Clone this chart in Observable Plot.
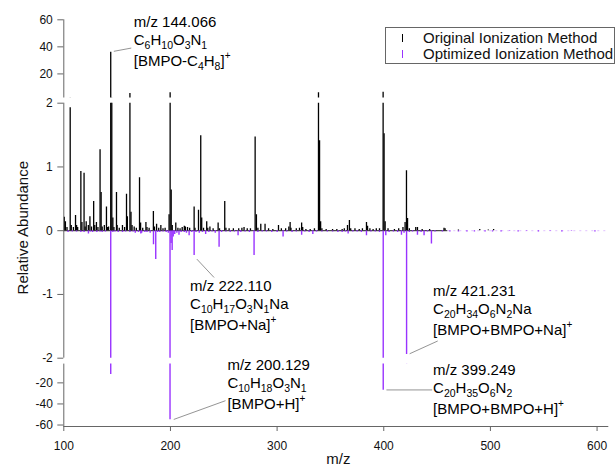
<!DOCTYPE html>
<html><head><meta charset="utf-8">
<script src="https://cdn.jsdelivr.net/npm/d3@7"></script>
<script src="https://cdn.jsdelivr.net/npm/@observablehq/plot@0.6"></script>
<style>
body{margin:0;background:#fff;}
#wrap{position:relative;width:616px;height:467px;font-family:"Liberation Sans",Arial,sans-serif;background:#fff;}
#wrap svg{position:absolute;left:0;overflow:visible;background:transparent;}
#legend{position:absolute;left:385px;top:27px;width:230px;height:37px;border:1px solid #666;box-sizing:border-box;font-size:15px;color:#111;background:#fff;z-index:5;}
.lrow{position:absolute;left:0;height:16px;line-height:16px;white-space:nowrap;}
.lrow .sym{position:absolute;left:16px;top:4px;width:1.4px;height:8px;}
.lrow .lab{position:absolute;left:37px;top:0;}
</style></head>
<body>
<div id="wrap">
  <div id="legend">
    <div class="lrow" style="top:2px"><span class="sym" style="background:#000"></span><span class="lab">Original Ionization Method</span></div>
    <div class="lrow" style="top:18px"><span class="sym" style="background:#9933ff"></span><span class="lab">Optimized Ionization Method</span></div>
  </div>
</div>
<script>
// ---- data: Original Ionization Method (positive) ----
const origMz = [100.5,101.5,103,106,107,109,111,112,113,116,117,119,120,121,123,124.5,126,128,129,130.6,132,134,135,136,138,140,141,142,144,145,146,147,149.4,150,152,155,157,158.8,159.6,162,163,164,166,168,171,172,174,177,178,180,184,185,187,189,191,193,195,198.7,199.7,200.7,201.7,205,207,209,211,213,214,216,218,222.2,223,226.3,228.4,229.3,231,234,235,237,240,244.7,246,250.9,252,255,259,264,267,269,272,275,279.4,280.6,282,284.7,288.7,292,296,301.3,304,308,311,312.2,313,318,321,323,324,327,331,335,338.8,339.8,340.8,342,346,352,356,361,363,366,367.8,369,373,377,380,383.8,384.8,387,390,393,396,399.4,400.3,401.3,404,410,414,418,420,421.3,422.3,424,430,431.6,436,443,456.5,457.5,470,490,498,503];
const origAb = [0.21,0.14,0.05,1.93,0.08,0.05,0.24,0.08,0.05,0.93,0.13,0.90,0.06,0.14,0.08,0.22,0.06,0.46,0.08,0.13,0.05,1.27,0.60,0.06,0.08,0.37,0.05,0.06,36,2.1,0.20,0.05,0.60,0.08,0.04,0.08,0.05,0.57,0.22,5.5,0.29,0.08,0.06,0.04,0.83,0.12,0.04,0.13,0.05,0.04,0.30,0.06,0.10,0.04,0.08,0.03,0.04,0.25,6,0.64,0.08,0.12,0.04,0.03,0.05,0.07,0.06,0.05,0.04,0.37,0.04,0.32,1.49,0.20,0.04,0.14,0.04,0.06,0.03,0.12,0.03,0.46,0.04,0.03,0.03,0.03,0.04,0.05,0.03,0.03,1.47,0.25,0.04,0.10,0.10,0.03,0.02,0.08,0.03,0.03,0.06,0.13,0.04,0.03,0.04,0.12,0.05,0.02,0.02,0.03,6,1.41,0.14,0.03,0.02,0.02,0.02,0.02,0.03,0.08,0.16,0.03,0.03,0.02,0.03,0.13,0.07,0.03,0.02,0.03,0.03,6.5,1.52,0.14,0.03,0.02,0.03,0.05,0.13,0.94,0.19,0.03,0.05,0.05,0.02,0.02,0.04,0.03,0.01,0.02,0.01,0.02];

// ---- data: Optimized Ionization Method (negative) ----
const optMz = [104,108,112,116,119,123.1,125,127,131,134,136,139,144,146,148,151,155,158,162,165,167,170,172.2,173,176,178,181,184.1,186.2,188,190,193,196,198,199.6,200.6,201.6,202.6,204,206,208,210,213,215,217.5,220,222.2,224,227,230,233,236,239,242,245.6,248,252,256,260,263.4,266,270,274,278.4,282,286,290,295,300,305.6,309,314,318,323,326,330,333.5,337,342,347,352,357,361,364,366.6,371,375,379,383.8,388,392,396,399.5,401.9,405,409,413,416.6,419,421.4,424,427,431.6,435,437.8,441,444.7,448,455,462,470,478,485,495,502,510,518,526,534,545,556,567,576,598];
const optAb = [-0.03,-0.02,-0.02,-0.03,-0.03,-0.05,-0.02,-0.03,-0.03,-0.02,-0.03,-0.02,-12,-0.03,-0.02,-0.03,-0.03,-0.02,-0.03,-0.02,-0.04,-0.03,-0.05,-0.04,-0.03,-0.03,-0.04,-0.22,-0.45,-0.03,-0.03,-0.02,-0.03,-0.04,-55,-0.2,-0.31,-0.1,-0.06,-0.04,-0.07,-0.03,-0.03,-0.04,-0.08,-0.03,-0.39,-0.03,-0.04,-0.03,-0.06,-0.03,-0.02,-0.04,-0.26,-0.03,-0.02,-0.03,-0.02,-0.08,-0.03,-0.02,-0.03,-0.39,-0.03,-0.02,-0.02,-0.03,-0.03,-0.10,-0.02,-0.03,-0.02,-0.07,-0.02,-0.03,-0.06,-0.02,-0.02,-0.02,-0.02,-0.03,-0.03,-0.02,-0.05,-0.02,-0.02,-0.03,-0.08,-0.02,-0.02,-0.03,-27,-0.08,-0.03,-0.02,-0.03,-0.07,-0.04,-1.94,-0.03,-0.02,-0.07,-0.03,-0.08,-0.02,-0.21,-0.02,-0.02,-0.02,-0.02,-0.02,-0.02,-0.02,-0.02,-0.02,-0.01,-0.02,-0.01,-0.02,-0.01,-0.02,-0.01,-0.02];

// ---- annotations ----
const annotMz = [144.066, 222.110, 200.129, 421.231, 399.249];
const annotFormula = ["C_6H_10O_3N_1", "C_10H_17O_3N_1Na", "C_10H_18O_3N_1", "C_20H_34O_6N_2Na", "C_20H_35O_6N_2"];
const annotIon = ["[BMPO-C_4H_8]^+", "[BMPO+Na]^+", "[BMPO+H]^+", "[BMPO+BMPO+Na]^+", "[BMPO+BMPO+H]^+"];

// ---- axis ticks ----
const xTicks = [100, 200, 300, 400, 500, 600];
const yTicksTop = [60, 40, 20];
const yTicksMid = [2, 1, 0, -1, -2];
const yTicksBot = [-20, -40, -60];

// ---- layout ----
const X_DOMAIN = [100, 611];
const ML = 63.3, MR = 7.7;
const annotSection = [0, 1, 2, 1, 2];
const labelAt = [[165.6, 58.2], [218.4, -0.864], [253.4, -3.5], [446.2, -0.943], [446.2, -7.6]];
const leaderFrom = [[146.9, 36.7], [224.7, -0.445], [203.1, -54.7], [424.3, -1.93], [402.5, -26.7]];
const leaderTo = [[163.3, 39.1], [240.9, -0.734], [251.6, -36.9], [450.6, -1.73], [445.4, -26.7]];
const lineDy = [0, 18, 39];
const PURPLE = "#9933ff";
const AXIS = "#666";

const origRows = origMz.map((m, i) => ({mz: m, v: origAb[i]}));
const optRows = optMz.map((m, i) => ({mz: m, v: optAb[i]}));
const annRows = annotMz.map((m, i) => ({
  sec: annotSection[i],
  lines: ["m/z " + m.toFixed(3), annotFormula[i], annotIon[i]],
  x: labelAt[i][0], y: labelAt[i][1],
  x1: leaderFrom[i][0], y1: leaderFrom[i][1], x2: leaderTo[i][0], y2: leaderTo[i][1]
}));

const sections = [
  {top: 0,   height: 100, mt: 19.3, mb: 2.5,  domain: [2.2, 60],     ticks: yTicksTop, axisY1: 2.2,   axisY2: 60},
  {top: 100, height: 260, mt: 2.7,  mb: 2.3,  domain: [-2, 2],       ticks: yTicksMid, axisY1: -2,    axisY2: 2},
  {top: 360, height: 107, mt: 3.6,  mb: 41,   domain: [-61.4, -2.2], ticks: yTicksBot, axisY1: -61.4, axisY2: -2.2}
];

function richify(svg) {
  d3.select(svg).selectAll("text").each(function () {
    const s = this.textContent;
    if (!/[_^]/.test(s) || this.querySelector("tspan")) return;
    this.textContent = "";
    const re = /([_^])(\+|\d+)|([^_^]+)/g;
    let m, shift = 0;
    while ((m = re.exec(s))) {
      const ts = document.createElementNS("http://www.w3.org/2000/svg", "tspan");
      if (m[3]) { ts.textContent = m[3]; ts.setAttribute("dy", -shift); shift = 0; }
      else {
        const d = m[1] === "_" ? 4 : -7;
        ts.textContent = m[2];
        ts.setAttribute("font-size", m[1] === "_" ? "10.5" : "10");
        ts.setAttribute("dy", d - shift);
        shift = d;
      }
      this.appendChild(ts);
    }
  });
}

const wrap = document.getElementById("wrap");
sections.forEach((s, si) => {
  const ann = annRows.filter(d => d.sec === si);
  const marks = [];
  if (si === 1) {
    marks.push(Plot.ruleY([0], {x1: 100, x2: 611, stroke: PURPLE, strokeOpacity: 0.3, strokeWidth: 1, strokeDasharray: "2,4"}));
    marks.push(Plot.ruleY([0], {x1: 100, x2: 460, stroke: "#222", strokeWidth: 1}));
  }
  marks.push(
    Plot.ruleX(optRows, {x: "mz", y1: 0, y2: "v", stroke: PURPLE, strokeWidth: 1.4, clip: true}),
    Plot.ruleX(origRows, {x: "mz", y1: 0, y2: "v", stroke: "#000", strokeWidth: 1.3, clip: true}),
    Plot.ruleX([100], {y1: s.axisY1, y2: s.axisY2, stroke: AXIS, strokeWidth: 1}),
    Plot.axisY({ticks: s.ticks, tickFormat: d => String(d), tickSize: 6, tickPadding: 5, stroke: AXIS, fill: "#111", fontSize: 12, label: null})
  );
  if (si === 2) {
    marks.push(
      Plot.ruleY([-61.4], {x1: 100, x2: 611, stroke: AXIS, strokeWidth: 1}),
      Plot.axisX({ticks: xTicks, tickFormat: d => String(d), tickSize: 5, tickPadding: 10, stroke: AXIS, fill: "#111", fontSize: 12, label: null}),
      Plot.text(["m/z"], {frameAnchor: "bottom", text: d => d, dy: 33, dx: 2, textAnchor: "middle", lineAnchor: "middle", fontSize: 15, fill: "#111"})
    );
  } else {
    marks.push(Plot.axisX({ticks: [], label: null}));
  }
  if (si === 1) {
    marks.push(Plot.text(["Relative Abundance"], {frameAnchor: "left", text: d => d, rotate: -90, dx: -41, dy: -3, textAnchor: "middle", lineAnchor: "middle", fontSize: 15, fill: "#111"}));
  }
  if (ann.length) {
    marks.push(Plot.link(ann, {x1: "x1", y1: "y1", x2: "x2", y2: "y2", stroke: "#888", strokeWidth: 0.9}));
    lineDy.forEach((dy, k) => marks.push(Plot.text(ann, {x: "x", y: "y", text: d => d.lines[k], dy, textAnchor: "start", lineAnchor: "middle", fontSize: 15, fill: "#000"})));
  }
  const svg = Plot.plot({
    width: 616, height: s.height,
    marginLeft: ML, marginRight: MR, marginTop: s.mt, marginBottom: s.mb,
    style: {fontFamily: "Liberation Sans, Arial, sans-serif", fontSize: "12px", background: "transparent", overflow: "visible"},
    x: {domain: X_DOMAIN},
    y: {domain: s.domain},
    marks
  });
  richify(svg);
  svg.style.top = s.top + "px";
  wrap.appendChild(svg);
});
</script>
</body></html>
